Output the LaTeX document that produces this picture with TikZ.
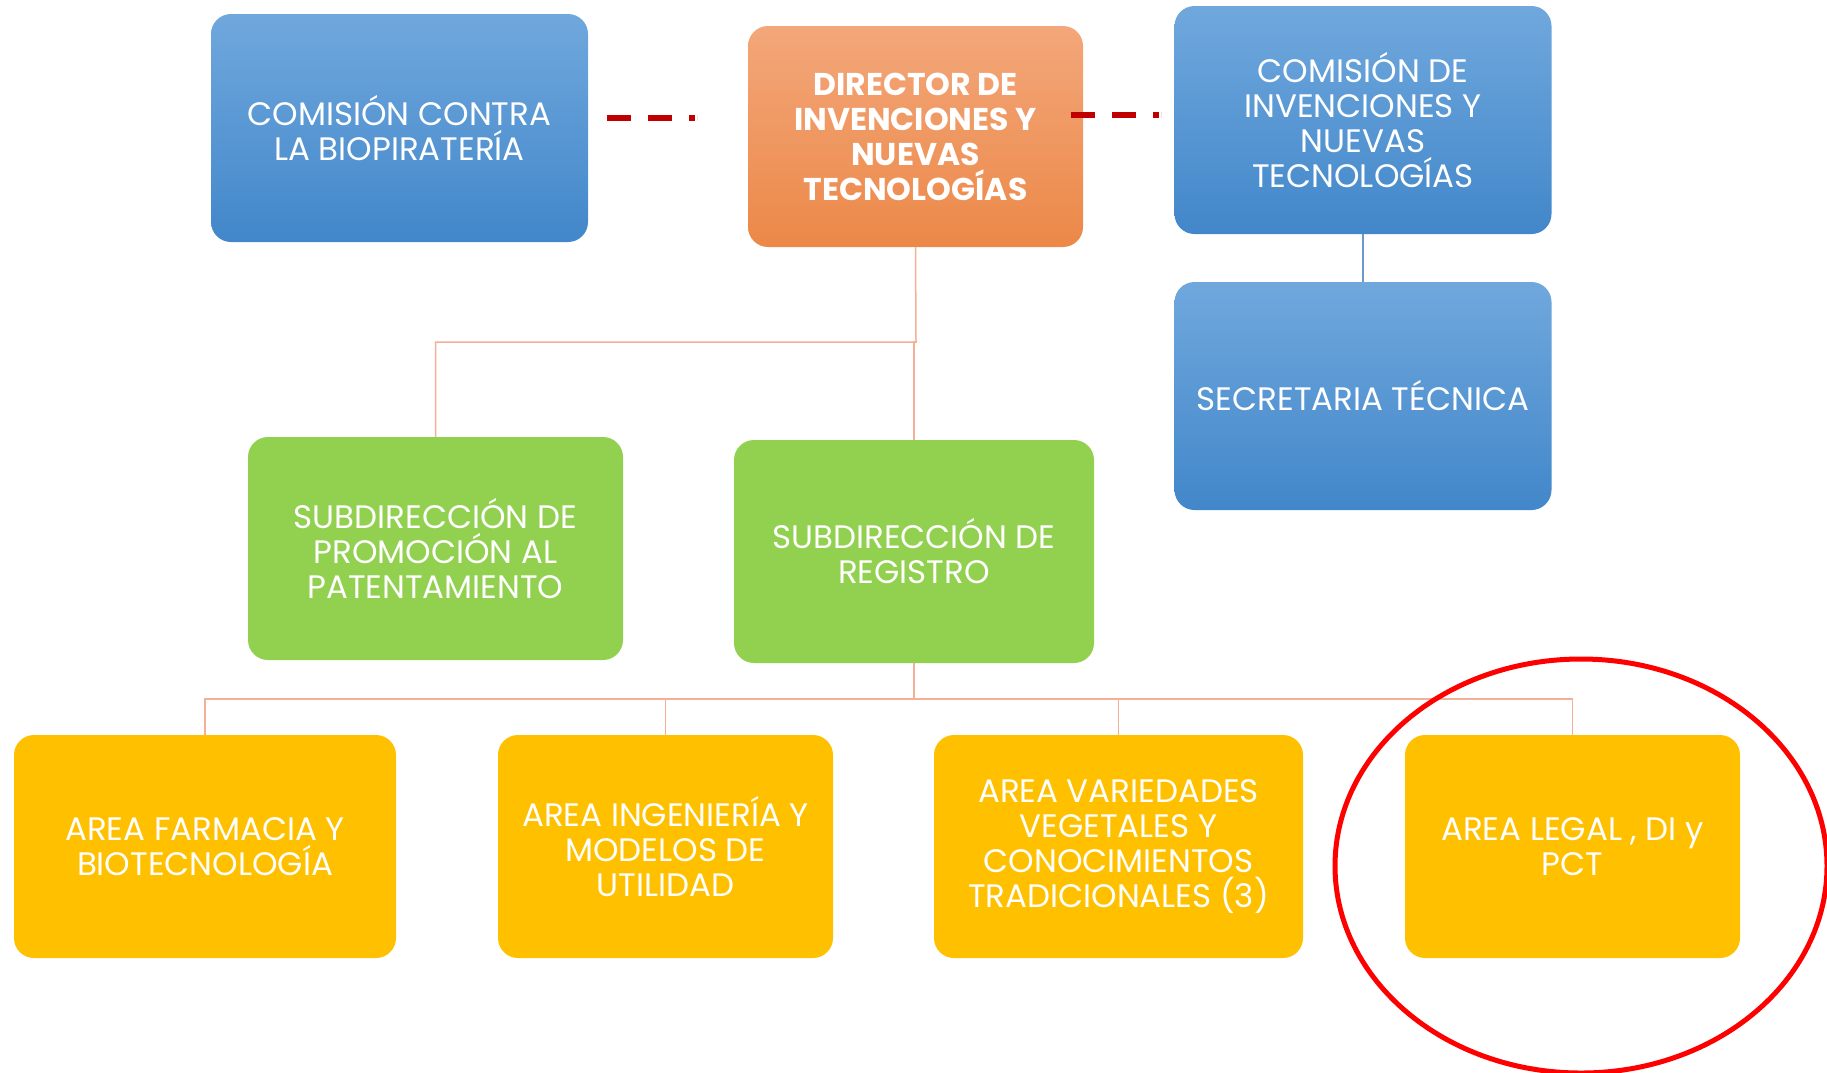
\documentclass[tikz,border=0pt]{standalone}
\usepackage{fontspec}
\setmainfont{Poppins}
\usepackage{tikz}
\usetikzlibrary{positioning,calc}

\definecolor{bluetop}{RGB}{112,168,221}
\definecolor{bluebot}{RGB}{66,135,202}
\definecolor{orangetop}{RGB}{243,167,122}
\definecolor{orangebot}{RGB}{236,136,72}
\definecolor{leafgreen}{RGB}{146,208,80}
\definecolor{ambar}{RGB}{255,192,0}
\definecolor{salmon}{RGB}{244,176,150}
\definecolor{linkblue}{RGB}{110,152,204}
\definecolor{darkred}{RGB}{192,0,0}

\begin{document}
\begin{tikzpicture}[x=1pt,y=-1pt,
    box/.style={rounded corners=20pt, align=center, text=white, inner sep=0pt,
        font=\fontsize{32.5}{35}\selectfont},
    bluebox/.style={box, top color=bluetop, bottom color=bluebot,
        minimum width=377pt, minimum height=228pt},
    headbox/.style={box, top color=orangetop, bottom color=orangebot,
        minimum width=335pt, minimum height=221pt,
        font=\fontsize{31.5}{35}\selectfont\bfseries},
    subbox/.style={box, fill=leafgreen, minimum height=223pt},
    areabox/.style={box, fill=ambar, minimum height=223pt},
    conn/.style={salmon, line width=1.5pt},
    linkdash/.style={darkred, line width=6pt,
        dash pattern=on 24pt off 17pt on 24pt off 17pt on 6pt off 2pt}]
    \useasboundingbox (0,0) rectangle (1827,1072);

    % top row
    \node [bluebox] (ccb) at (399.5,128) {COMISIÓN CONTRA\\LA BIOPIRATERÍA};
    \node [headbox] (dir) at (915.5,136.5) {DIRECTOR DE\\INVENCIONES Y\\NUEVAS\\TECNOLOGÍAS};
    \node [bluebox] (cin) at (1363,120) {COMISIÓN DE\\INVENCIONES Y\\NUEVAS\\TECNOLOGÍAS};
    \node [bluebox] (sec) at (1363,396) {SECRETARIA TÉCNICA};

    % subdirecciones
    \node [subbox, minimum width=375pt] (promo) at (435.5,548.5) {SUBDIRECCIÓN DE\\PROMOCIÓN AL\\PATENTAMIENTO};
    \node [subbox, minimum width=360pt] (reg) at (914,551.5) {SUBDIRECCIÓN DE\\REGISTRO};

    % areas
    \node [areabox, minimum width=382pt] (farm) at (205,846.5) {AREA FARMACIA Y\\BIOTECNOLOGÍA};
    \node [areabox, minimum width=335pt] (ing) at (665.5,846.5) {AREA INGENIERÍA Y\\MODELOS DE\\UTILIDAD};
    \node [areabox, minimum width=369pt] (var) at (1118.5,846.5) {AREA VARIEDADES\\VEGETALES Y\\CONOCIMIENTOS\\TRADICIONALES (3)};
    \node [areabox, minimum width=335pt] (leg) at (1572.5,846.5) {AREA LEGAL , DI y\\PCT};

    % links
    \coordinate (hub1) at (916,342);
    \coordinate (hub2) at (914,699);
    \draw [conn] (dir.south) -- (hub1) -| (promo.north);
    \draw [conn] (hub1) -| (reg.north);
    \draw [conn] (reg.south) -- (hub2);
    \foreach \a in {farm,ing,var,leg} {
        \draw [conn] (hub2) -| (\a.north);
    }
    \draw [linkblue, line width=1.5pt] (cin.south) -- (sec.north);
    \draw [linkdash] ($(ccb.east)+(19,-10)$) -- ++(90,0);
    \draw [linkdash] ($(dir.east)+(-12,-21.5)$) -- ++(90,0);

    % highlight
    \draw [red, line width=5pt] (1581,866) ellipse [x radius=246, y radius=207];
\end{tikzpicture}
\end{document}
